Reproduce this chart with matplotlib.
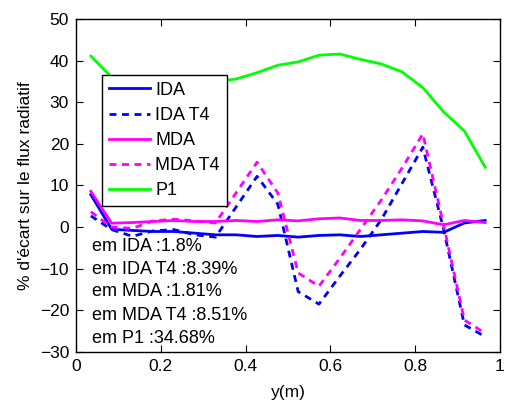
import matplotlib
matplotlib.use("Agg")
import matplotlib.pyplot as plt

plt.rcParams['font.family'] = ['Liberation Sans', 'DejaVu Sans']

# abscisses (m)
y_pos = [0.035, 0.084, 0.133, 0.182, 0.231, 0.280, 0.329, 0.378, 0.427, 0.476,
         0.524, 0.573, 0.622, 0.671, 0.720, 0.769, 0.818, 0.867, 0.916, 0.965]

# % d'ecart par methode
ida = [7.8, -0.5, -0.8, -1.05, -1.05, -1.45, -1.85, -1.85, -2.25, -2.0,
       -2.4, -2.0, -1.85, -2.25, -1.85, -1.45, -1.05, -1.25, 1.0, 1.6]
ida_t4 = [2.7, -0.6, -2.2, -0.9, -0.6, -1.85, -2.4, 4.9, 12.2, 5.5,
          -15.5, -18.5, -11.8, -5.3, 1.8, 10.5, 19.2, -0.5, -23.5, -26.3]
mda = [8.6, 0.95, 1.1, 1.35, 1.6, 1.35, 1.35, 1.6, 1.35, 1.75,
       1.5, 2.0, 2.2, 1.6, 1.6, 1.75, 1.5, 0.55, 1.6, 1.1]
mda_t4 = [3.7, 0.0, -0.3, 1.5, 1.9, 1.5, 1.0, 8.3, 15.6, 8.2,
          -11.0, -14.2, -7.5, -0.5, 6.5, 14.2, 22.4, 0.5, -22.3, -25.5]
p1 = [41.1, 36.0, 35.0, 34.6, 34.5, 34.6, 35.0, 35.6, 37.1, 38.9,
      39.7, 41.3, 41.6, 40.3, 39.2, 37.3, 33.5, 27.7, 23.1, 14.4]

labels = ['IDA', 'IDA T4', 'MDA', 'MDA T4', 'P1']
em_txt = ['em IDA :1.8%', 'em IDA T4 :8.39%', 'em MDA :1.81%',
          'em MDA T4 :8.51%', 'em P1 :34.68%']

fig = plt.figure(figsize=(5.06, 4.01), dpi=100)
ax = fig.add_axes([76 / 506, 1 - 352 / 401, 424 / 506, 333 / 401])

lw = 2.0
dash = (2.5, 2.0)
ax.plot(y_pos, ida, color='#0000ff', lw=lw, label=labels[0])
ax.plot(y_pos, ida_t4, color='#0000ff', lw=lw, dashes=dash, label=labels[1])
ax.plot(y_pos, mda, color='#ff00ff', lw=lw, label=labels[2])
ax.plot(y_pos, mda_t4, color='#ff00ff', lw=lw, dashes=dash, label=labels[3])
ax.plot(y_pos, p1, color='#00ff00', lw=lw, label=labels[4])

ax.set_xlim(0, 1)
ax.set_ylim(-30, 50)
ax.set_xticks([0, 0.2, 0.4, 0.6, 0.8, 1])
ax.set_xticklabels(['0', '0.2', '0.4', '0.6', '0.8', '1'])
ax.set_yticks(range(-30, 51, 10))
ax.tick_params(direction='in', top=True, right=True, length=5, width=0.8,
               labelsize=12.5, pad=5)
for s in ax.spines.values():
    s.set_linewidth(1.0)

ax.set_xlabel('y(m)', fontsize=12.5, labelpad=8)
ax.set_ylabel("% d'écart sur le flux radiatif", fontsize=12.5, labelpad=5)

leg = ax.legend(loc='upper left', bbox_to_anchor=(0.0606, 0.832),
                borderaxespad=0, fontsize=13, handlelength=2.3,
                handletextpad=0.3, labelspacing=0.45, borderpad=0.38,
                fancybox=False, framealpha=1, edgecolor='black')
leg.get_frame().set_linewidth(1.0)

# erreurs moyennes
row_y = [0.316, 0.248, 0.181, 0.111, 0.041]
for t, yy in zip(em_txt, row_y):
    ax.text(0.0385, yy, t, transform=ax.transAxes, fontsize=13, va='center')

fig.savefig('out.png', dpi=100)
